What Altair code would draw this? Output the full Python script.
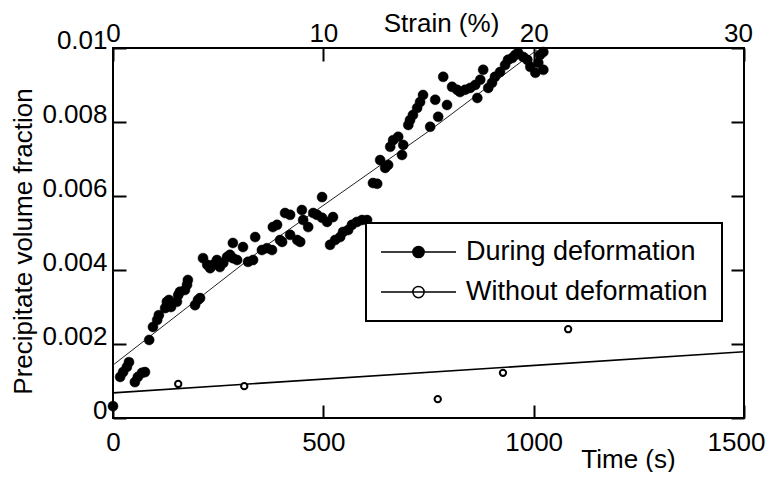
import altair as alt
import pandas as pd

FONT = "Liberation Sans"

# ---- data ----
series = ["During deformation", "Without deformation"]

during_t = [0, 17, 24, 33, 38, 52, 59, 69, 76, 86, 95, 105, 109, 124, 128, 133, 138, 152, 155, 159,
            171, 176, 178, 195, 202, 207, 214, 224, 231, 238, 247, 254, 262, 271, 278, 285, 285, 295,
            309, 321, 333, 338, 354, 366, 378, 380, 390, 397, 402, 409, 421, 421, 438, 445, 449, 452,
            464, 476, 485, 497, 497, 509, 516, 523, 528, 540, 547, 559, 568, 580, 592, 604, 618, 628,
            635, 647, 654, 659, 666, 678, 687, 690, 702, 706, 713, 723, 730, 737, 754, 766, 773, 785,
            794, 806, 818, 825, 837, 849, 861, 866, 873, 880, 892, 901, 908, 920, 932, 939, 949, 956,
            963, 975, 985, 992, 1004, 1011, 1015, 1023, 1023]
during_v = [0.00032, 0.00111, 0.00124, 0.00138, 0.00151, 0.00097, 0.00111, 0.00122, 0.00124, 0.00211,
            0.00246, 0.00265, 0.00278, 0.00297, 0.00314, 0.00319, 0.00300, 0.00314, 0.00332, 0.00341,
            0.00346, 0.00360, 0.00373, 0.00305, 0.00319, 0.00324, 0.00432, 0.00414, 0.00405, 0.00414,
            0.00427, 0.00408, 0.00419, 0.00435, 0.00441, 0.00432, 0.00473, 0.00427, 0.00462, 0.00422,
            0.00427, 0.00489, 0.00454, 0.00459, 0.00454, 0.00516, 0.00522, 0.00481, 0.00476, 0.00554,
            0.00495, 0.00549, 0.00481, 0.00476, 0.00562, 0.00535, 0.00516, 0.00554, 0.00549, 0.00541,
            0.00597, 0.00530, 0.00468, 0.00543, 0.00481, 0.00489, 0.00503, 0.00508, 0.00522, 0.00530,
            0.00535, 0.00535, 0.00635, 0.00633, 0.00697, 0.00676, 0.00684, 0.00733, 0.00751, 0.00760,
            0.00711, 0.00738, 0.00792, 0.00805, 0.00819, 0.00838, 0.00854, 0.00873, 0.00787, 0.00860,
            0.00814, 0.00922, 0.00846, 0.00895, 0.00887, 0.00881, 0.00887, 0.00892, 0.00900, 0.00865,
            0.00914, 0.00941, 0.00892, 0.00906, 0.00922, 0.00935, 0.00954, 0.00968, 0.00973, 0.00981,
            0.00987, 0.00976, 0.00968, 0.00949, 0.00933, 0.00960, 0.00981, 0.00941, 0.00989]

without_t = [155, 312, 772, 927, 1082]
without_v = [0.00092, 0.00086, 0.00051, 0.00122, 0.00240]

fit_during_t = [0, 373, 754, 1008]
fit_during_v = [0.00143, 0.00473, 0.00778, 0.00995]
fit_without_t = [0, 1500]
fit_without_v = [0.00068, 0.00179]

time_ticks = [0, 500, 1000, 1500]
strain_labels = ["0", "10", "20", "30"]
frac_ticks = [0, 0.002, 0.004, 0.006, 0.008, 0.01]

# ---- tables ----
during_df = pd.DataFrame({"t": during_t, "v": during_v, "series": series[0]})
without_df = pd.DataFrame({"t": without_t, "v": without_v, "series": series[1]})
fit_d_df = pd.DataFrame({"t": fit_during_t, "v": fit_during_v})
fit_w_df = pd.DataFrame({"t": fit_without_t, "v": fit_without_v})

xscale = alt.Scale(domain=[0, 1500], nice=False, zero=False)
yscale = alt.Scale(domain=[0, 0.01], nice=False)
fill_scale = alt.Scale(domain=series, range=["black", "white"])

strain_expr = " : ".join(
    f"datum.value == {t} ? '{s}'" for t, s in zip(time_ticks, strain_labels)
) + " : ''"

last_tick = time_ticks[-1]

TICK = {"expr": "-13"}

common_axis = dict(labelFont=FONT, labelFontSize=26, labelColor="black", titleFont=FONT,
                   titleFontSize=26, titleColor="black", titleFontWeight="normal",
                   domain=False, grid=False, tickColor="black", tickWidth=2, tickSize=TICK)

PATH = "M-1,0L1,0M-0.15,0A0.15,0.15,0,1,1,0.15,0A0.15,0.15,0,1,1,-0.15,0Z"

legend = alt.Legend(title=None, orient="none", legendX=253, legendY=175,
                    symbolType=PATH, symbolSize=5625, symbolStrokeColor="black",
                    symbolStrokeWidth=1.5, labelFont=FONT, labelFontSize=27,
                    labelColor="black", labelOffset=9, labelLimit=0, strokeColor="black",
                    padding=14, rowPadding=10, fillColor="white", clipHeight=30)

fill_enc = alt.Fill("series:N", scale=fill_scale, legend=legend)

pts_during = alt.Chart(during_df).mark_point(
    shape="circle", filled=True, size=100, stroke="black", strokeWidth=0.5, opacity=1
).encode(
    x=alt.X("t:Q", scale=xscale,
            axis=alt.Axis(orient="bottom", values=time_ticks, format="d", title="Time (s)",
                          labelFlush=False, labelPadding=24,
                          labelOffset={"condition": {"test": f"datum.value == {last_tick}",
                                                     "value": -8}, "value": 0},
                          titleX=515, titleY=49,
                          titleAlign="center", titleBaseline="alphabetic", **common_axis)),
    y=alt.Y("v:Q", scale=yscale,
            axis=alt.Axis(orient="left", values=frac_ticks, format="~g",
                          title="Precipitate volume fraction", labelPadding=19, labelOffset=-8,
                          titleX=-90, titleY=193, titleAngle=270, titleAlign="center",
                          titleBaseline="middle", **common_axis)),
    fill=fill_enc,
)

pts_without = alt.Chart(without_df).mark_point(
    shape="circle", filled=True, size=40, stroke="black", strokeWidth=2, opacity=1
).encode(
    x=alt.X("t:Q", scale=xscale, axis=None),
    y=alt.Y("v:Q", scale=yscale, axis=None),
    fill=fill_enc,
)

line_during = alt.Chart(fit_d_df).mark_line(color="#222222", strokeWidth=1).encode(
    x=alt.X("t:Q", scale=xscale,
            axis=alt.Axis(orient="top", values=time_ticks, labelExpr=strain_expr,
                          title="Strain (%)", labelFlush=False, labelPadding=15,
                          labelOffset={"condition": {"test": f"datum.value == {last_tick}",
                                                     "value": -6}, "value": 0},
                          titleX=328, titleY=-17, titleAlign="center",
                          titleBaseline="alphabetic", **common_axis)),
    y=alt.Y("v:Q", scale=yscale,
            axis=alt.Axis(orient="right", values=frac_ticks, labels=False, title=None,
                          **common_axis)),
)

line_without = alt.Chart(fit_w_df).mark_line(color="black", strokeWidth=1.6).encode(
    x=alt.X("t:Q", scale=xscale, axis=None),
    y=alt.Y("v:Q", scale=yscale, axis=None),
)

chart = alt.layer(line_during, line_without, pts_during, pts_without).resolve_axis(
    x="independent", y="independent"
).properties(
    width=631, height=370,
    autosize=alt.AutoSizeParams(type="none"),
    padding={"left": 105, "top": 40, "right": 21, "bottom": 54},
    background="white",
).configure_view(
    stroke="black", strokeWidth=2
).configure_legend(
    strokeWidth=2
)

chart.save("out.html", embed_options={"renderer": "svg", "actions": False})
